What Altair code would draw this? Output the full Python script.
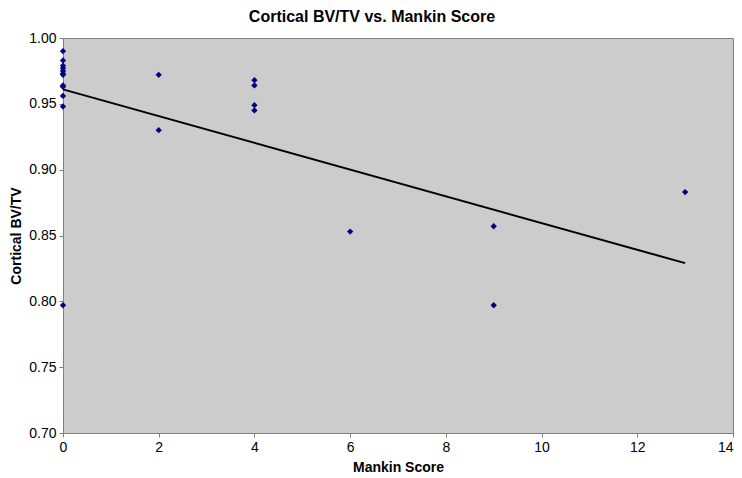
import altair as alt
import pandas as pd

mankin = [0, 0, 0, 0, 0, 0, 0, 0, 0, 0, 0, 0, 2, 2, 4, 4, 4, 4, 6, 9, 9, 13]
bvtv = [0.990, 0.983, 0.979, 0.977, 0.975, 0.973, 0.972, 0.964, 0.963, 0.956, 0.948, 0.797,
        0.972, 0.930, 0.968, 0.964, 0.949, 0.945, 0.853, 0.857, 0.797, 0.883]
trend_x = [0, 13]
trend_y = [0.961, 0.829]
x_ticks = [0, 2, 4, 6, 8, 10, 12, 14]
y_ticks = [0.70, 0.75, 0.80, 0.85, 0.90, 0.95, 1.00]

pts = pd.DataFrame({"Mankin Score": mankin, "Cortical BV/TV": bvtv})
trend = pd.DataFrame({"Mankin Score": trend_x, "Cortical BV/TV": trend_y})

font = "Liberation Sans"

xs = alt.Scale(domain=[0, 14], nice=False, zero=False)
ys = alt.Scale(domain=[0.70, 1.00], nice=False, zero=False)

xax = alt.Axis(values=x_ticks, grid=False, domainColor="#808080", tickColor="#808080",
               tickSize=4, labelFontSize=14, labelFont=font, labelColor="black",
               labelAlign={"condition": {"test": "datum.value == 14", "value": "right"}, "value": "center"},
               labelFlush=False,
               titleFont=font, titleFontSize=14, titleFontWeight="bold", titleColor="black",
               titlePadding=6, labelPadding=3)
yax = alt.Axis(values=y_ticks, format=".2f", grid=False, domainColor="#808080", tickColor="#808080",
               tickSize=4, labelFontSize=14, labelFont=font, labelColor="black",
               titleFont=font, titleFontSize=14, titleFontWeight="bold", titleColor="black",
               titlePadding=5, labelPadding=3)

points = alt.Chart(pts).mark_point(shape="diamond", filled=True, color="#000080", size=40, opacity=1).encode(
    x=alt.X("Mankin Score:Q", scale=xs, axis=xax),
    y=alt.Y("Cortical BV/TV:Q", scale=ys, axis=yax),
)

line = alt.Chart(trend).mark_line(color="black", strokeWidth=2).encode(
    x=alt.X("Mankin Score:Q", scale=xs),
    y=alt.Y("Cortical BV/TV:Q", scale=ys),
)

chart = alt.layer(points, line).properties(
    width=670, height=395,
    autosize="none",
    padding={"left": 55, "top": 30, "right": 1, "bottom": 45},
    title=alt.TitleParams("Cortical BV/TV vs. Mankin Score", font=font, fontSize=16,
                          fontWeight="bold", color="black", anchor="middle", offset=6, dx=-26),
).configure_view(fill="#CCCCCC", stroke="#808080", strokeWidth=1)

chart.save("out.html", embed_options={"renderer": "svg", "actions": False})
